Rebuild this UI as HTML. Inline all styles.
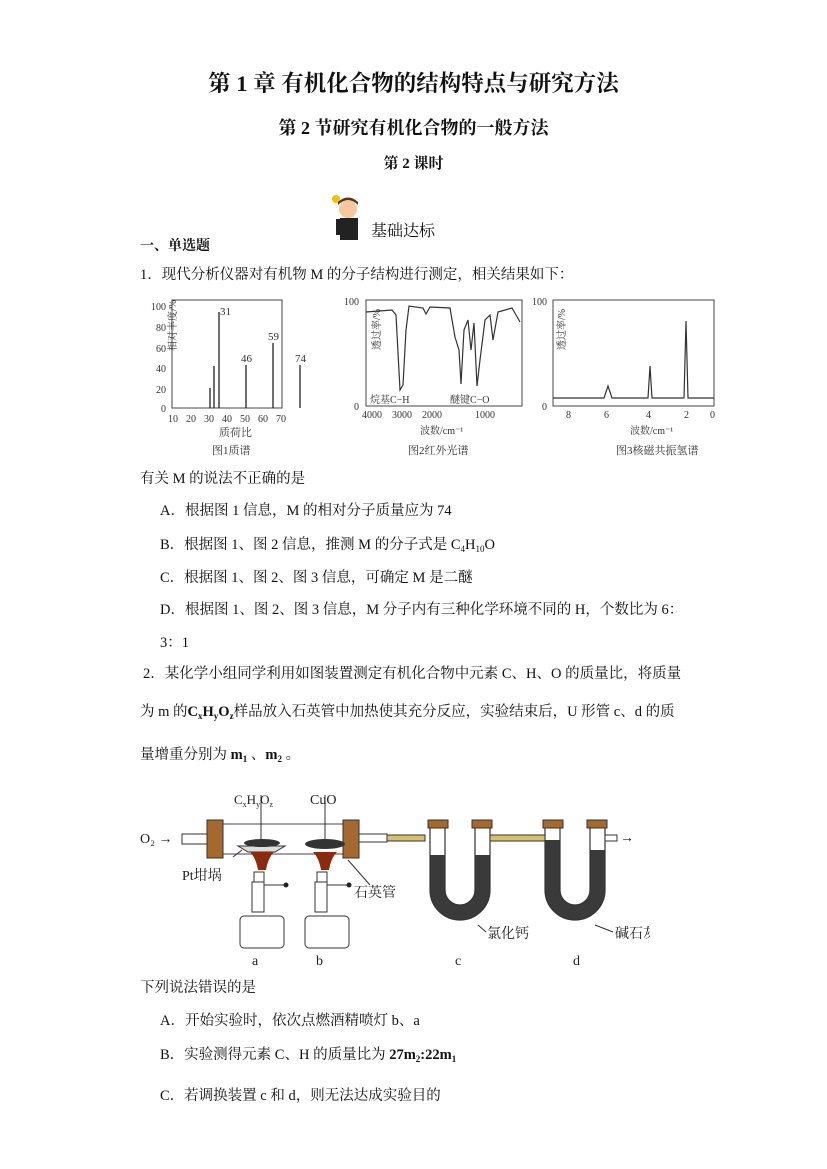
<!DOCTYPE html>
<html><head><meta charset="utf-8">
<style>
body{margin:0;background:#fff;}
#p{position:relative;width:827px;height:1169px;overflow:hidden;font-family:"Liberation Serif","Noto Serif CJK SC","Noto Sans CJK SC",serif;color:#111;}
.t{position:absolute;white-space:nowrap;font-size:14.5px;line-height:1;}
.b{font-weight:bold;}
sub{font-size:9px;vertical-align:-3px;}
</style></head><body><div id="p">
<div class="t b" style="left:0;width:827px;text-align:center;top:73px;font-size:22.5px;">第 1 章  有机化合物的结构特点与研究方法</div>
<div class="t b" style="left:0;width:827px;text-align:center;top:119px;font-size:18px;">第 2 节研究有机化合物的一般方法</div>
<div class="t b" style="left:0;width:827px;text-align:center;top:157px;font-size:15px;">第 2 课时</div>
<svg style="position:absolute;left:328px;top:193px" width="44" height="50">
<circle cx="8" cy="6" r="4" fill="#f2c200"/><circle cx="20" cy="16" r="9" fill="#f5c9a0"/><path d="M10 12 Q20 2 30 12 L30 9 Q20 0 10 9Z" fill="#5a3510"/>
<rect x="12" y="25" width="18" height="22" fill="#222"/><rect x="8" y="26" width="5" height="16" fill="#222"/></svg>
<div class="t" style="left:371px;top:224px;font-size:16px;">基础达标</div>
<div class="t b" style="left:140px;top:240px;font-size:14px;">一、单选题</div>
<div class="t" style="left:140px;top:268px;">1．现代分析仪器对有机物 M 的分子结构进行测定，相关结果如下：</div>

<svg style="position:absolute;left:130px;top:290px" width="600" height="170" font-family="Liberation Serif,Noto Serif CJK SC,serif" font-size="11" fill="#333">
<g stroke="#444" fill="none" stroke-width="1">
<rect x="42" y="10" width="110" height="108"/>
<rect x="236" y="10" width="156" height="106"/>
<rect x="423" y="10" width="161" height="106"/>
</g>
<g font-size="10" text-anchor="end"><text x="36" y="20">100</text><text x="36" y="41">80</text><text x="36" y="62">60</text><text x="36" y="82">40</text><text x="36" y="103">20</text><text x="36" y="122">0</text></g>
<g font-size="10"><text x="38" y="132">10</text><text x="56" y="132">20</text><text x="74" y="132">30</text><text x="92" y="132">40</text><text x="110" y="132">50</text><text x="128" y="132">60</text><text x="146" y="132">70</text></g>
<text x="89" y="146">质荷比</text><text x="82" y="164">图1质谱</text>
<text x="20" y="95" transform="rotate(-90 16 65)" font-size="10">相对丰度/%</text>
<g stroke="#222" stroke-width="1.3"><line x1="89" y1="118" x2="89" y2="22"/><line x1="84" y1="118" x2="84" y2="76"/><line x1="80" y1="118" x2="80" y2="98"/><line x1="116" y1="118" x2="116" y2="75"/><line x1="143" y1="118" x2="143" y2="53"/><line x1="170" y1="118" x2="170" y2="75"/></g>
<text x="90" y="25">31</text><text x="111" y="72">46</text><text x="138" y="50">59</text><text x="165" y="72">74</text>
<text x="229" y="15" font-size="10" text-anchor="end">100</text><text x="229" y="120" font-size="10" text-anchor="end">0</text>
<text x="240" y="90" transform="rotate(-90 230 70)" font-size="10">透过率/%</text>
<path d="M236 22 L262 20 L266 25 L270 100 L273 95 L276 40 L279 16 L293 18 L296 24 L300 17 L320 18 L325 47 L329 60 L331 94 L334 40 L338 30 L341 60 L344 33 L347 96 L350 70 L355 30 L360 25 L363 50 L368 22 L382 18 L390 32" fill="none" stroke="#333" stroke-width="1.2"/>
<text x="240" y="113" font-size="10">烷基C−H</text><text x="320" y="113" font-size="10">醚键C−O</text>
<g font-size="10"><text x="232" y="128">4000</text><text x="262" y="128">3000</text><text x="292" y="128">2000</text><text x="345" y="128">1000</text></g>
<text x="290" y="144" font-size="10">波数/cm⁻¹</text><text x="278" y="164">图2红外光谱</text>
<text x="417" y="15" font-size="10" text-anchor="end">100</text><text x="417" y="120" font-size="10" text-anchor="end">0</text>
<text x="425" y="90" transform="rotate(-90 415 70)" font-size="10">透过率/%</text>
<path d="M423 108 L474 108 L478 96 L482 108 L518 108 L520 76 L522 108 L554 108 L556 31 L558 108 L584 108" fill="none" stroke="#333" stroke-width="1.2"/>
<g font-size="10"><text x="436" y="128">8</text><text x="474" y="128">6</text><text x="516" y="128">4</text><text x="554" y="128">2</text><text x="580" y="128">0</text></g>
<text x="500" y="144" font-size="10">波数/cm⁻¹</text><text x="486" y="164">图3核磁共振氢谱</text>
</svg>

<div class="t" style="left:140px;top:472px;">有关 M 的说法不正确的是</div>
<div class="t" style="left:160px;top:504px;">A．根据图 1 信息，M 的相对分子质量应为 74</div>
<div class="t" style="left:160px;top:538px;">B．根据图 1、图 2 信息，推测 M 的分子式是 C<sub>4</sub>H<sub>10</sub>O</div>
<div class="t" style="left:160px;top:571px;">C．根据图 1、图 2、图 3 信息，可确定 M 是二醚</div>
<div class="t" style="left:160px;top:603px;">D．根据图 1、图 2、图 3 信息，M 分子内有三种化学环境不同的 H，个数比为 6：</div>
<div class="t" style="left:160px;top:636px;">3：1</div>
<div class="t" style="left:143px;top:667px;">2．某化学小组同学利用如图装置测定有机化合物中元素 C、H、O 的质量比，将质量</div>
<div class="t" style="left:140px;top:705px;">为 m 的<b>C<sub>x</sub>H<sub>y</sub>O<sub>z</sub></b>样品放入石英管中加热使其充分反应，实验结束后，U 形管 c、d 的质</div>
<div class="t" style="left:140px;top:748px;">量增重分别为 <b>m<sub>1</sub></b> 、<b>m<sub>2</sub></b> 。</div>

<svg style="position:absolute;left:130px;top:780px" width="520" height="190" font-family="Liberation Serif,Noto Serif CJK SC,serif" font-size="14" fill="#222">
<text x="10" y="63">O₂ →</text>
<rect x="52" y="54" width="25" height="10" fill="none" stroke="#333"/>
<rect x="77" y="44" width="148" height="30" fill="none" stroke="#444"/>
<rect x="77" y="40" width="16" height="38" fill="#a5692f" stroke="#333"/>
<rect x="213" y="40" width="16" height="38" fill="#a5692f" stroke="#333"/>
<rect x="229" y="54" width="28" height="8" fill="#fff" stroke="#333"/>
<rect x="257" y="55" width="38" height="6" fill="#d8c070" stroke="#333"/>
<path d="M108 66 L155 66 L145 72 L118 72Z" fill="#ddd" stroke="#333"/>
<ellipse cx="132" cy="63" rx="18" ry="4" fill="#333"/>
<ellipse cx="195" cy="64" rx="20" ry="5" fill="#333"/>
<path d="M120 72 Q126 78 128 90 L136 90 Q138 78 144 72Z" fill="#8a2a10"/><path d="M183 72 Q189 78 191 90 L199 90 Q201 78 207 72Z" fill="#8a2a10"/>
<line x1="131" y1="15" x2="131" y2="60" stroke="#333"/><line x1="195" y1="15" x2="195" y2="60" stroke="#333"/>
<text x="104" y="24" font-size="13">C<tspan font-size="8" dy="3">x</tspan><tspan dy="-3">H</tspan><tspan font-size="8" dy="3">y</tspan><tspan dy="-3">O</tspan><tspan font-size="8" dy="3">z</tspan></text>
<text x="180" y="24" font-size="14">CuO</text>
<g stroke="#333" fill="#fff"><rect x="124" y="92" width="10" height="10"/><rect x="187" y="92" width="10" height="10"/><rect x="122" y="102" width="12" height="30"/><rect x="185" y="102" width="12" height="30"/>
<rect x="110" y="136" width="44" height="32" rx="4"/><rect x="175" y="136" width="44" height="32" rx="4"/></g>
<line x1="134" y1="105" x2="155" y2="105" stroke="#333"/><circle cx="156" cy="105" r="2.5"/>
<line x1="197" y1="105" x2="218" y2="105" stroke="#333"/><circle cx="219" cy="105" r="2.5"/>
<line x1="103" y1="77" x2="112" y2="70" stroke="#333"/><line x1="218" y1="80" x2="240" y2="105" stroke="#333"/>
<text x="52" y="100">Pt坩埚</text><text x="224" y="117">石英管</text>
<text x="122" y="185">a</text><text x="186" y="185">b</text><text x="325" y="185">c</text><text x="443" y="185">d</text>
<line x1="348" y1="145" x2="356" y2="152" stroke="#333"/><line x1="465" y1="145" x2="483" y2="152" stroke="#333"/>
<text x="357" y="158">氯化钙</text><text x="485" y="158">碱石灰</text>
<path d="M300 75 L315 75 L315 110 A15 15 0 0 0 345 110 L345 75 L360 75 L360 110 A30 30 0 0 1 300 110Z" fill="#3a3a3a"/>
<path d="M415 60 L430 60 L430 110 A15 15 0 0 0 460 110 L460 70 L475 70 L475 110 A30 30 0 0 1 415 110Z" fill="#3a3a3a"/>
<g fill="none" stroke="#333" stroke-width="1.2">
<path d="M300 45 L300 110 A30 30 0 0 0 360 110 L360 45"/><path d="M345 45 L345 110 A15 15 0 0 1 315 110 L315 45"/>
<path d="M415 45 L415 110 A30 30 0 0 0 475 110 L475 45"/><path d="M460 45 L460 110 A15 15 0 0 1 430 110 L430 45"/>
</g>
<g fill="#a5692f" stroke="#333"><rect x="298" y="40" width="20" height="8"/><rect x="342" y="40" width="20" height="8"/><rect x="413" y="40" width="20" height="8"/><rect x="457" y="40" width="20" height="8"/></g>
<rect x="360" y="55" width="55" height="6" fill="#d8c070" stroke="#333"/>
<rect x="475" y="55" width="12" height="6" fill="#fff" stroke="#333"/>
<text x="490" y="62">→</text>
</svg>

<div class="t" style="left:140px;top:981px;">下列说法错误的是</div>
<div class="t" style="left:160px;top:1014px;">A．开始实验时，依次点燃酒精喷灯 b、a</div>
<div class="t" style="left:160px;top:1048px;">B．实验测得元素 C、H 的质量比为 <b>27m<sub>2</sub>:22m<sub>1</sub></b></div>
<div class="t" style="left:160px;top:1089px;">C．若调换装置 c 和 d，则无法达成实验目的</div>
</div></body></html>
